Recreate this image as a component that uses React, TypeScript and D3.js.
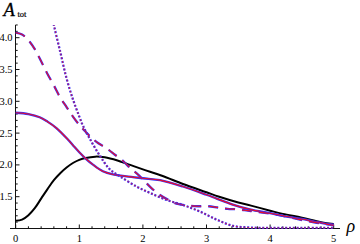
import React from 'react';
import * as d3 from 'd3';

// black solid curve
const blackX = [0, 0.1, 0.2, 0.3, 0.4, 0.5, 0.6, 0.7, 0.8, 0.9, 1.0, 1.1, 1.25, 1.4, 1.6, 1.8, 2.0, 2.3, 2.63, 3.0, 3.2, 3.5, 3.7, 4.0, 4.2, 4.5, 4.8, 5.0];
const blackY = [1.12, 1.14, 1.21, 1.32, 1.47, 1.62, 1.76, 1.87, 1.96, 2.03, 2.08, 2.11, 2.13, 2.12, 2.07, 2.0, 1.93, 1.83, 1.7, 1.57, 1.5, 1.41, 1.36, 1.28, 1.23, 1.17, 1.1, 1.07];

// red/blue solid
const solidX = [0, 0.2, 0.377, 0.5, 0.64, 0.82, 0.9, 1.0, 1.1, 1.22, 1.37, 1.53, 1.74, 2.0, 2.27, 2.63, 3.0, 3.16, 3.4, 3.68, 4.0, 4.2, 4.5, 4.8, 5.0];
const solidY = [2.82, 2.8, 2.75, 2.68, 2.58, 2.4, 2.31, 2.2, 2.1, 2.0, 1.9, 1.85, 1.82, 1.79, 1.76, 1.66, 1.53, 1.47, 1.38, 1.3, 1.24, 1.2, 1.15, 1.09, 1.06];

// red/blue dashed
const dashX = [0, 0.1, 0.2, 0.3, 0.4, 0.5, 0.6, 0.7, 0.8, 0.9, 1.0, 1.1, 1.2, 1.3, 1.43, 1.56, 1.69, 1.79, 1.92, 2.03, 2.13, 2.25, 2.4, 2.53, 2.7, 2.87, 3.02, 3.18, 3.33, 3.5, 3.65, 3.81, 4.1, 4.47, 4.73, 4.9, 5.0];
const dashY = [4.08, 4.05, 3.96, 3.82, 3.63, 3.43, 3.25, 3.06, 2.91, 2.76, 2.63, 2.52, 2.42, 2.34, 2.26, 2.16, 2.06, 1.96, 1.85, 1.74, 1.64, 1.54, 1.45, 1.39, 1.36, 1.35, 1.35, 1.33, 1.31, 1.3, 1.28, 1.26, 1.22, 1.14, 1.09, 1.065, 1.05];

// red/blue dotted
const dotX = [0.55, 0.6, 0.7, 0.8, 0.9, 1.0, 1.06, 1.16, 1.32, 1.48, 1.64, 1.9, 2.11, 2.37, 2.63, 2.89, 3.16, 3.42, 3.68, 4.0, 4.5, 5.0];
const dotY = [4.45, 4.2, 3.78, 3.36, 3.03, 2.76, 2.61, 2.42, 2.15, 1.93, 1.82, 1.66, 1.56, 1.45, 1.37, 1.27, 1.14, 1.04, 1.015, 1.01, 1.01, 1.01];

const xTicks = [0, 1, 2, 3, 4, 5];
const yTicks = [1.5, 2.0, 2.5, 3.0, 3.5, 4.0];

const W = 360;
const H = 244;

const x = d3.scaleLinear().domain([0, 5]).range([15.7, 333.7]);
const y = d3.scaleLinear().domain([1, 4]).range([228.5, 37.7]);

const line = d3
  .line<[number, number]>()
  .x(d => x(d[0]))
  .y(d => y(d[1]))
  .curve(d3.curveCatmullRom.alpha(0.5));

const zip = (xs: number[], ys: number[]) => xs.map((v, i) => [v, ys[i]] as [number, number]);

const serif = { fontFamily: "'Liberation Serif', 'Times New Roman', serif" };

export default function App() {
  const xMinor = d3.range(0.2, 5.01, 0.2).filter(v => Math.abs(v - Math.round(v)) > 0.01);
  const yMinor = d3.range(1.1, 4.21, 0.1).filter(v => Math.abs(v * 2 - Math.round(v * 2)) > 0.01);
  const axisX = 15.5;
  const axisY = 228.5;

  // blue underneath, thinner red on top, same pattern
  const pair = (xs: number[], ys: number[], dash?: string, w = 2.3, rw = 1.15) => {
    const d = line(zip(xs, ys)) || '';
    return (
      <g>
        <path d={d} fill="none" stroke="#3030ff" strokeWidth={w} strokeDasharray={dash} />
        <path d={d} fill="none" stroke="#e8102a" strokeWidth={rw} strokeDasharray={dash} />
      </g>
    );
  };

  return (
    <svg width={W} height={H} style={{ position: 'absolute', left: 0, top: 0 }}>
      <defs>
        <clipPath id="plot">
          <rect x={10} y={25} width={332} height={206} />
        </clipPath>
      </defs>

      {/* axes */}
      <line x1={10} x2={340} y1={axisY} y2={axisY} stroke="#111" strokeWidth={1} />
      <line x1={axisX} x2={axisX} y1={25} y2={axisY} stroke="#111" strokeWidth={1} />

      {xTicks.map(t => (
        <g key={'xt' + t}>
          <line x1={x(t)} x2={x(t)} y1={axisY} y2={axisY - 4} stroke="#111" />
          <text x={x(t)} y={241.5} style={serif} fontSize={10.5} textAnchor="middle">
            {t}
          </text>
        </g>
      ))}
      {xMinor.map(t => (
        <line key={'xm' + t} x1={x(t)} x2={x(t)} y1={axisY} y2={axisY - 2.2} stroke="#111" />
      ))}

      {yTicks.map(t => (
        <g key={'yt' + t}>
          <line x1={axisX} x2={axisX + 4} y1={y(t)} y2={y(t)} stroke="#111" />
          <text x={12.5} y={y(t) + 3.5} style={serif} fontSize={10.5} textAnchor="end">
            {t.toFixed(1)}
          </text>
        </g>
      ))}
      {yMinor.map(t => (
        <line key={'ym' + t} x1={axisX} x2={axisX + 2.2} y1={y(t)} y2={y(t)} stroke="#111" />
      ))}

      {/* curves */}
      <g clipPath="url(#plot)">
        <path d={line(zip(blackX, blackY)) || ''} fill="none" stroke="#000" strokeWidth={2} />
        {pair(solidX, solidY)}
        {pair(dashX, dashY, '10,7')}
        {pair(dotX, dotY, '2,1.8', 2.3, 0.8)}
      </g>

      {/* axis labels */}
      <text x={3.5} y={15.5} style={serif} fontSize={18.5} fontStyle="italic" stroke="#000" strokeWidth={0.3}>
        A
      </text>
      <text x={17.5} y={17} style={serif} fontSize={8.5} stroke="#000" strokeWidth={0.2}>
        tot
      </text>
      <text x={346.5} y={232} style={serif} fontSize={18} fontStyle="italic">
        ρ
      </text>
    </svg>
  );
}
